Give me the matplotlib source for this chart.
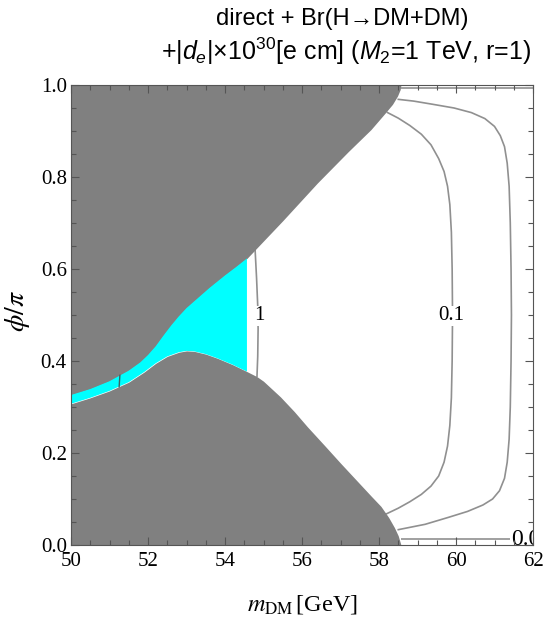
import numpy as np
import matplotlib
matplotlib.use('Agg')
import matplotlib.pyplot as plt
from matplotlib.ticker import MultipleLocator

plt.rcParams['mathtext.fontset'] = 'custom'
plt.rcParams['mathtext.rm'] = 'Liberation Sans'
plt.rcParams['mathtext.it'] = 'Liberation Sans:italic'
plt.rcParams['mathtext.bf'] = 'Liberation Sans:bold'

# ---- data ----
# lower boundary of the upper excluded (gray) region
upper_x = [50.0, 50.5, 51.0, 51.5, 51.8, 52.0, 52.2, 52.4, 52.6, 52.8, 53.0, 53.3, 53.6,
           54.0, 54.3, 54.57, 55.5, 56.4, 57.2, 57.79, 58.14, 58.35, 58.48, 58.55, 58.57]
upper_phi = [0.326, 0.339, 0.356, 0.379, 0.397, 0.413, 0.432, 0.455, 0.477, 0.497, 0.515,
             0.537, 0.559, 0.586, 0.605, 0.623, 0.705, 0.787, 0.855, 0.903, 0.937, 0.958,
             0.976, 0.99, 1.0]
# upper boundary of the lower excluded (gray) region
lower_x = [50.0, 50.5, 51.0, 51.5, 51.9, 52.2, 52.5, 52.8, 53.0, 53.2, 53.5, 53.8, 54.2,
           54.57, 54.83, 55.0, 55.44, 55.8, 56.14, 56.6, 57.0, 57.5, 57.8, 58.05, 58.25,
           58.4, 58.5, 58.57]
lower_phi = [0.307, 0.320, 0.335, 0.354, 0.376, 0.395, 0.410, 0.419, 0.422, 0.421, 0.415,
             0.406, 0.392, 0.377, 0.366, 0.356, 0.322, 0.290, 0.257, 0.215, 0.178, 0.133,
             0.106, 0.084, 0.060, 0.038, 0.020, 0.0]
allowed_xmax = 54.57   # right edge of the cyan (allowed) region

# contour |d_e| x 1e30 = 1
c1_x = [54.78, 54.82, 54.85, 54.86, 54.85, 54.83]
c1_phi = [0.645, 0.58, 0.52, 0.47, 0.41, 0.365]
# contour 0.1
c01_x = [58.2, 58.5, 58.8, 59.1, 59.35, 59.55, 59.69, 59.78, 59.84, 59.88, 59.9, 59.91,
         59.9, 59.88, 59.84, 59.78, 59.69, 59.55, 59.35, 59.1, 58.8, 58.5, 58.2, 58.05]
c01_phi = [0.941, 0.928, 0.912, 0.893, 0.87, 0.84, 0.812, 0.78, 0.74, 0.68, 0.6, 0.5,
           0.4, 0.32, 0.26, 0.215, 0.18, 0.15, 0.128, 0.11, 0.094, 0.08, 0.068, 0.064]
# contour 0.01
c001_x = [58.48, 58.9, 59.4, 59.95, 60.4, 60.75, 61.0, 61.15, 61.26, 61.33, 61.38, 61.41,
          61.43, 61.44, 61.43, 61.41, 61.38, 61.33, 61.26, 61.13, 60.95, 60.7, 60.3, 59.8,
          59.2, 58.48]
c001_phi = [0.969, 0.965, 0.958, 0.95, 0.94, 0.927, 0.91, 0.89, 0.866, 0.83, 0.78, 0.7,
            0.6, 0.5, 0.4, 0.3, 0.23, 0.18, 0.145, 0.118, 0.1, 0.087, 0.073, 0.06,
            0.045, 0.033]
# contours hugging phi = 1 and phi = 0
ctop_x = [58.57, 62.0]
ctop_phi = [0.994, 0.994]
cbot_x = [58.57, 62.0]
cbot_phi = [0.013, 0.013]
# short dark segment inside the cyan band
cut_x = [51.25, 51.27]
cut_phi = [0.344, 0.369]

contour_labels = ['1', '0.1', '0.001']
label_x = [54.88, 59.87, 61.43]
label_phi = [0.498, 0.498, 0.013]

xticks = [50, 52, 54, 56, 58, 60, 62]
yticks = [0.0, 0.2, 0.4, 0.6, 0.8, 1.0]

# ---- figure ----
W, H = 548, 617
fig = plt.figure(figsize=(W / 100, H / 100), dpi=100)
ax = fig.add_axes([71 / W, 72 / H, 462 / W, 460 / H])

gray = '#808080'
ax.fill_between(upper_x, upper_phi, 1.0, color=gray, lw=0, zorder=2)
ax.fill_between(lower_x, 0.0, lower_phi, color=gray, lw=0, zorder=2)

ux = np.array(upper_x); up = np.array(upper_phi)
lx = np.array(lower_x); lp = np.array(lower_phi)
mu = ux <= allowed_xmax + 1e-9
ml = lx <= allowed_xmax + 1e-9
poly_x = np.r_[ux[mu], lx[ml][::-1]]
poly_y = np.r_[up[mu], lp[ml][::-1]]
ax.fill(poly_x, poly_y, color='#00ffff', lw=0, zorder=2)
ax.plot(cut_x, cut_phi, color='#3a6464', lw=1.0, zorder=3)

lc = '#909090'
for xs, ys in [(c1_x, c1_phi), (c01_x, c01_phi), (c001_x, c001_phi),
               (ctop_x, ctop_phi), (cbot_x, cbot_phi)]:
    ax.plot(xs, ys, color=lc, lw=1.2, zorder=1.5, solid_capstyle='butt',
            solid_joinstyle='round')

for t, xx, yy in zip(contour_labels, label_x, label_phi):
    ha = 'left' if t == '0.001' else 'center'
    fs = 17 if t == '0.001' else 15
    ax.text(xx, yy, t, ha=ha, va='center', fontsize=fs,
            family='Liberation Serif', zorder=1.8, clip_on=True,
            bbox=dict(facecolor='white', edgecolor='none', pad=0.5))

ax.set_xlim(50, 62)
ax.set_ylim(0, 1)
ax.set_xticks(xticks)
ax.set_yticks(yticks)
ax.set_xticklabels([str(v) for v in xticks])
ax.set_yticklabels(['%.1f' % v for v in yticks])
ax.xaxis.set_minor_locator(MultipleLocator(0.5))
ax.yaxis.set_minor_locator(MultipleLocator(0.05))
ax.tick_params(which='both', direction='in', top=True, right=True, color='#555555',
               width=0.8)
ax.tick_params(which='major', length=6, labelsize=15, pad=3)
ax.tick_params(which='minor', length=3.5)
for lab in ax.get_xticklabels() + ax.get_yticklabels():
    lab.set_family('Liberation Serif')
ax.tick_params(axis='x', pad=5)
for s in ax.spines.values():
    s.set_color('#555555')
    s.set_linewidth(0.8)
    s.set_zorder(5)
ax.set_axisbelow(False)

fig.text(302 / W, 1 - 604 / H, r'$m_{\rm DM}\,$[GeV]', ha='center', va='center',
         fontsize=17.5, family='Liberation Serif', math_fontfamily='stix')
fig.text(17 / W, 1 - 311 / H, r'$\phi/\pi$', ha='center', va='center', rotation=90,
         fontsize=20, family='Liberation Serif', math_fontfamily='stix')

fig.text(342 / W, 1 - 19 / H, 'direct + Br(H→DM+DM)', ha='center', va='center',
         fontsize=17, family=['Liberation Sans', 'DejaVu Sans'])
fig.text(346 / W, 1 - 51 / H, r'+|$d_e$|×10$^{30}$[e cm] ($M_2$=1 TeV, r=1)',
         ha='center', va='center', fontsize=18, family=['Liberation Sans', 'DejaVu Sans'])

fig.savefig('out.png', dpi=100)
